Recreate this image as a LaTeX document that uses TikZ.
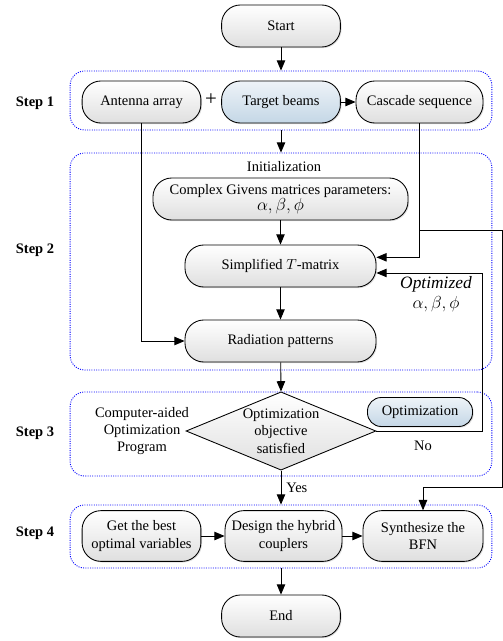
\documentclass[tikz,border=0pt]{standalone}
\usepackage{fontspec}
\setmainfont{Liberation Serif}
\usepackage{tikz}
\usetikzlibrary{shapes.geometric, arrows, shadows, positioning}
\definecolor{beamtop}{HTML}{EEF3F8}
\definecolor{beambot}{HTML}{C4D7E6}
\tikzstyle{start} = [rectangle, draw, text centered, rounded corners=13pt, align=center, minimum width=82pt, minimum height=29pt, top color=white, bottom color=gray!25, drop shadow={shadow xshift=0.8pt, shadow yshift=-0.8pt, opacity=0.25}]
\tikzstyle{process} = [start]
\tikzstyle{target} = [start, top color=beamtop, bottom color=beambot]
\tikzstyle{decision} = [diamond, draw, minimum width=131pt, minimum height=54pt, top color=white, bottom color=gray!25, inner sep=0pt]
\tikzstyle{connector} = [draw, -triangle 45]
\tikzset{
  stepframe/.style={
    rectangle,
    draw=blue,
    dash pattern=on 0.7pt off 0.9pt,
    line width=0.6pt,
    rounded corners=10pt,
    minimum width=291pt},
  steplabel/.style={
    font=\bfseries,
    align=center},
  plain/.style={
    align=center}
}

\begin{document}
\begin{tikzpicture}[x=0.69pt, y=-0.69pt, line width=0.6pt]
      \useasboundingbox (0,0) rectangle (503,641);
      % Step frames
      \node (step1_box) [stepframe, minimum height=40.7pt] at (281,100.5) {};
      \node (step2_box) [stepframe, minimum height=149.7pt] at (281,261.5) {};
      \node (step3_box) [stepframe, minimum height=58pt] at (281,434) {};
      \node (step4_box) [stepframe, minimum height=43.5pt] at (281,536.5) {};
      \node (step1_label) [steplabel] at (35,103) {Step 1};
      \node (step2_label) [steplabel] at (35,250) {Step 2};
      \node (step3_label) [steplabel] at (35,433) {Step 3};
      \node (step4_label) [steplabel] at (35,533) {Step 4};

      % Define nodes
      \node (start) [start] at (281,26) {Start};
      \node (antenna) [process] at (141.5,102) {Antenna array};
      \node (plus) [plain, font=\Large] at (211,100) {+};
      \node (target) [target] at (281,102) {Target beams};
      \node (cascade) [process, minimum width=87.6pt] at (419.5,102) {Cascade sequence};
      \node (init) [plain] at (284,167) {Initialization};
      \node (givens) [process, minimum width=176pt, inner sep=1pt] at (280.5,199) {Complex Givens matrices parameters:\\[-1pt] {\large $\alpha,\beta,\phi$}};
      \node (tmatrix) [process, minimum width=131.8pt] at (280.5,266) {Simplified $T$-matrix};
      \node (radiation) [process, minimum width=131.8pt] at (280.5,341) {Radiation patterns};
      \node (optimized) [plain, font=\large] at (436,294) {\textit{Optimized}\\ $\alpha,\beta,\phi$};
      \node (check) [decision] at (281,431) {};
      \node (check_text) [plain] at (281,431) {Optimization\\objective\\satisfied};
      \node (program) [plain] at (142,431) {Computer-aided\\Optimization\\Program};
      \node (optimization) [target, minimum width=72.5pt, minimum height=20pt, rounded corners=9.5pt] at (420,412) {Optimization};
      \node (no) [plain] at (423,446) {No};
      \node (best) [process, minimum height=35pt] at (141.5,536) {Get the best\\optimal variables};
      \node (design) [process, minimum width=80.7pt, minimum height=35pt] at (283.5,536) {Design the hybrid\\couplers};
      \node (synth) [process, minimum width=82.8pt, minimum height=35pt] at (423,536) {Synthesize the\\BFN};
      \node (end) [start] at (281,616) {End};

      \coordinate (tm_in) at ([yshift=6pt]tmatrix.east);
      \coordinate (tm_loop) at ([yshift=-4.8pt]tmatrix.east);
      \coordinate (split) at (419.5,230);
      \coordinate (bypass) at (502,487);
      \coordinate (loop) at (482,431);

      % Draw connectors
      \draw [connector] (start) -- (step1_box);
      \draw [connector] (target) -- (cascade);
      \draw [connector] (step1_box.south) -- (step2_box.north);
      \draw [connector] (antenna.south) |- (radiation.west);
      \draw [connector] (cascade.south) |- (tm_in);
      \draw [connector] (split) -| (bypass) -| (synth.north);
      \draw [connector] (givens) -- (tmatrix);
      \draw [connector] (tmatrix) -- (radiation);
      \draw [connector] (radiation) -- (check.north);
      \draw [connector] (check.east) -- (loop) |- (tm_loop);
      \draw [connector] (check.south) -- node [right] {Yes} (step4_box.north);
      \draw [connector] (best) -- (design);
      \draw [connector] (design) -- (synth);
      \draw [connector] (step4_box.south) -- (end);
\end{tikzpicture}
\end{document}
